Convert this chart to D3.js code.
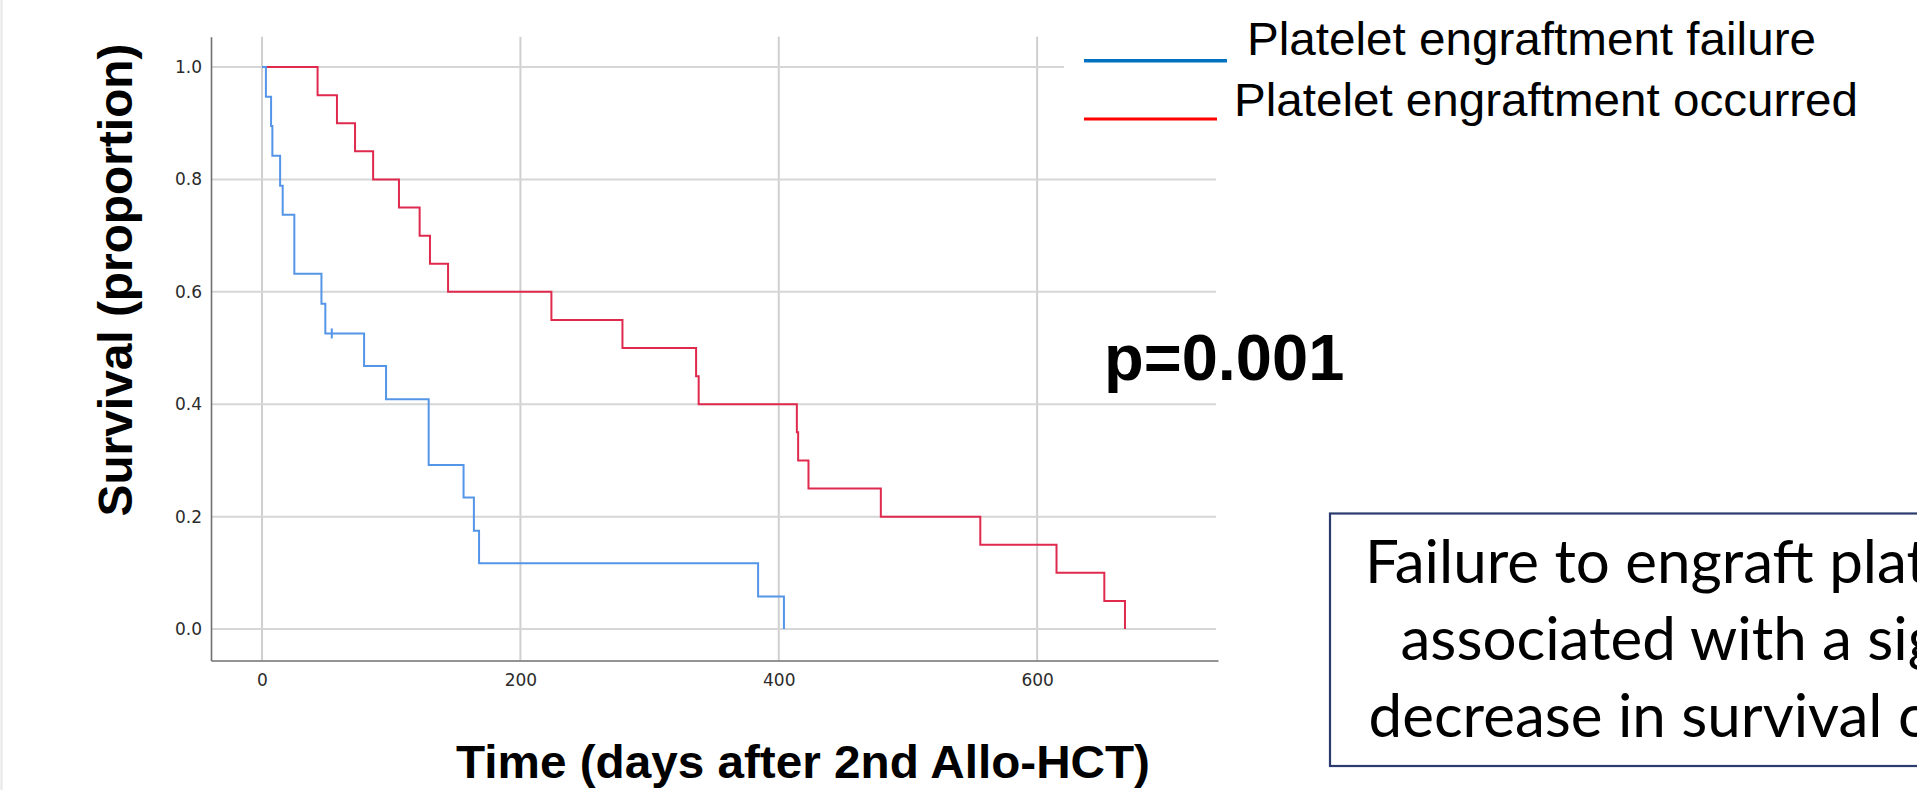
<!DOCTYPE html>
<html>
<head>
<meta charset="utf-8">
<script src="https://cdnjs.cloudflare.com/ajax/libs/d3/7.8.5/d3.min.js"></script>
<style>
  html, body { margin: 0; padding: 0; background: #fff; overflow: hidden; }
  svg { display: block; }
</style>
</head>
<body>
<div id="chart"></div>
<script>
// Kaplan-Meier estimates
const failureTimes = [0, 3, 7, 8, 14, 16, 25, 46, 49, 79, 96, 129, 156, 164, 168, 384, 404]
const failureSurv = [1.0, 0.947, 0.895, 0.842, 0.789, 0.737, 0.632, 0.579, 0.526, 0.468, 0.409, 0.292, 0.234, 0.175, 0.117, 0.058, 0.0]
const failureCensorTimes = [54]
const failureCensorSurv = [0.526]

const occurredTimes = [0, 43, 58, 72, 86, 106, 122, 130, 144, 224, 279, 336, 338, 414, 415, 423, 479, 556, 615, 652, 668]
const occurredSurv = [1.0, 0.95, 0.9, 0.85, 0.8, 0.75, 0.7, 0.65, 0.6, 0.55, 0.5, 0.45, 0.4, 0.35, 0.3, 0.25, 0.2, 0.15, 0.1, 0.05, 0.0]

const xTicks = [0, 200, 400, 600]
const yTicks = [0.0, 0.2, 0.4, 0.6, 0.8, 1.0]

const legendLabels = ["Platelet engraftment failure", "Platelet engraftment occurred"]
const boxLines = ["Failure to engraft platelets was", "associated with a significant", "decrease in survival of patients"]

const width = 1917
const height = 790

let svg = d3.select("#chart")
            .append("svg")
            .attr("width", width)
            .attr("height", height)

svg.append("rect")
   .attr("width", width)
   .attr("height", height)
   .attr("fill", "#fff")

// faint page edge on the left
svg.append("line")
   .attr("x1", 1.5).attr("x2", 1.5)
   .attr("y1", 0).attr("y2", height)
   .attr("stroke", "#e6e6e6")
   .attr("stroke-width", 2)

//Sets scales
let xScale = d3.scaleLinear()
               .domain([-39.5, 740])
               .range([211, 1218])
let yScale = d3.scaleLinear()
               .domain([-0.056, 1.054])
               .range([660.5, 36.7])

// grid
svg.append("g")
   .selectAll("line")
   .data(xTicks)
   .enter().append("line")
   .attr("x1", d => xScale(d)).attr("x2", d => xScale(d))
   .attr("y1", yScale.range()[1]).attr("y2", yScale.range()[0])
   .attr("stroke", "#cfcfcf")
   .attr("stroke-width", 2)

svg.append("g")
   .selectAll("line")
   .data(yTicks)
   .enter().append("line")
   .attr("x1", xScale.range()[0]).attr("x2", 1216)
   .attr("y1", d => yScale(d)).attr("y2", d => yScale(d))
   .attr("stroke", "#d6d6d6")
   .attr("stroke-width", 2)

// axes
let xAxis = d3.axisBottom(xScale)
              .tickValues(xTicks)
              .tickSize(0)
              .tickSizeOuter(0)
              .tickPadding(13)
              .tickFormat(d3.format("d"))
let yAxis = d3.axisLeft(yScale)
              .tickValues(yTicks)
              .tickSize(0)
              .tickSizeOuter(0)
              .tickPadding(9)
              .tickFormat(d3.format(".1f"))

let gx = svg.append("g")
   .attr("transform", "translate(0," + yScale.range()[0] + ")")
   .call(xAxis)
let gy = svg.append("g")
   .attr("transform", "translate(" + xScale.range()[0] + ",0)")
   .call(yAxis)

;[gx, gy].forEach(g => {
  g.select(".domain").attr("stroke", "#707070").attr("stroke-width", 1.6)
  g.selectAll("text")
   .attr("fill", "#2b2b2b")
   .style("font-family", "'DejaVu Sans', sans-serif")
   .style("font-size", "17px")
})

// curves
let line = d3.line()
             .x(d => xScale(d[0]))
             .y(d => yScale(d[1]))
             .curve(d3.curveStepAfter)

svg.append("path")
   .datum(d3.zip(occurredTimes, occurredSurv))
   .attr("d", line)
   .attr("fill", "none")
   .attr("stroke", "#df2a4e")
   .attr("stroke-width", 2)

svg.append("path")
   .datum(d3.zip(failureTimes, failureSurv))
   .attr("d", line)
   .attr("fill", "none")
   .attr("stroke", "#5495e8")
   .attr("stroke-width", 2)

svg.selectAll(".censor")
   .data(d3.zip(failureCensorTimes, failureCensorSurv))
   .enter().append("line")
   .attr("class", "censor")
   .attr("x1", d => xScale(d[0])).attr("x2", d => xScale(d[0]))
   .attr("y1", d => yScale(d[1]) - 5).attr("y2", d => yScale(d[1]) + 5)
   .attr("stroke", "#5495e8")
   .attr("stroke-width", 2)

// axis titles
svg.append("text")
   .attr("transform", "translate(131.5,280) rotate(-90)")
   .attr("text-anchor", "middle")
   .style("font-family", "'Liberation Sans', Arial, sans-serif")
   .style("font-weight", "bold")
   .style("font-size", "48px")
   .attr("textLength", 473)
   .attr("lengthAdjust", "spacingAndGlyphs")
   .text("Survival (proportion)")

svg.append("text")
   .attr("x", 803)
   .attr("y", 778)
   .attr("text-anchor", "middle")
   .style("font-family", "'Liberation Sans', Arial, sans-serif")
   .style("font-weight", "bold")
   .style("font-size", "46px")
   .attr("textLength", 694)
   .attr("lengthAdjust", "spacingAndGlyphs")
   .text("Time (days after 2nd Allo-HCT)")

// legend (white backing hides the top gridline)
let legend = svg.append("g")
legend.append("rect")
      .attr("x", 1064).attr("y", 4)
      .attr("width", 853).attr("height", 136)
      .attr("fill", "#fff")

let legendColor = ["#0070c0", "#ff0000"]
let legendLine = [[1084, 1227, 60.7, 3.4], [1084, 1217, 119, 2.8]]
let legendText = [[1247, 54.5, 569], [1234, 115.5, 624]]

legendLabels.forEach(function(label, i) {
  legend.append("line")
        .attr("x1", legendLine[i][0]).attr("x2", legendLine[i][1])
        .attr("y1", legendLine[i][2]).attr("y2", legendLine[i][2])
        .attr("stroke", legendColor[i])
        .attr("stroke-width", legendLine[i][3])
  legend.append("text")
        .attr("x", legendText[i][0])
        .attr("y", legendText[i][1])
        .attr("textLength", legendText[i][2])
        .attr("lengthAdjust", "spacingAndGlyphs")
        .style("font-family", "'Liberation Sans', Arial, sans-serif")
        .style("font-size", "47px")
        .attr("fill", "#000")
        .text(label)
})

svg.append("text")
   .attr("x", 1104)
   .attr("y", 380)
   .style("font-family", "'Liberation Sans', Arial, sans-serif")
   .style("font-weight", "bold")
   .style("font-size", "65px")
   .text("p=0.001")

// conclusion box, running off the right edge
svg.append("rect")
   .attr("x", 1330).attr("y", 513.5)
   .attr("width", 800).attr("height", 252.5)
   .attr("fill", "#fff")
   .attr("stroke", "#2c3b6e")
   .attr("stroke-width", 2.2)

// size the box font so the visible part of line 1 spans the same width
let probe = svg.append("text")
   .style("font-family", "Lato, 'Open Sans', sans-serif")
   .style("font-size", "100px")
   .text("Failure to engraft pla")
let boxFont = 100 * 542 / probe.node().getComputedTextLength()
probe.remove()

let boxX = [1365, 1400.5, 1368.5]
let boxY = [583, 660, 737]
boxLines.forEach(function(t, i) {
  svg.append("text")
     .attr("x", boxX[i])
     .attr("y", boxY[i])
     .style("font-family", "Lato, 'Open Sans', sans-serif")
     .style("font-size", boxFont + "px")
     .attr("fill", "#000")
     .text(t)
})
</script>
</body>
</html>
